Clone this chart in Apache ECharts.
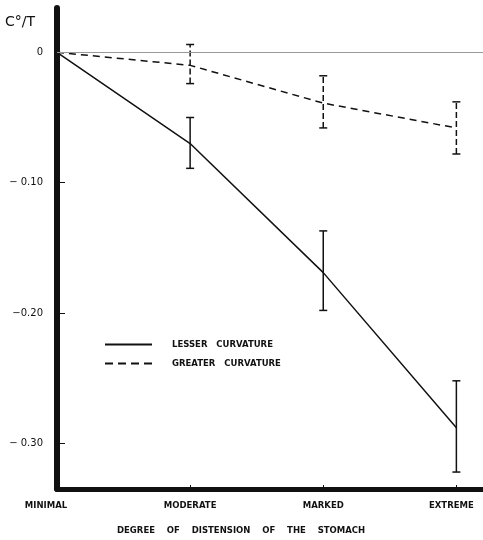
<!DOCTYPE html>
<html>
<head>
<meta charset="utf-8">
<script src="https://cdn.jsdelivr.net/npm/echarts@6/dist/echarts.min.js"></script>
<style>html,body{margin:0;padding:0;background:#fff}#c{width:483px;height:540px}</style>
</head>
<body>
<div id="c"></div>
<script>
const categories = ['MINIMAL', 'MODERATE', 'MARKED', 'EXTREME'];
const categoryX = [0, 1, 2, 3];
const lesserMean = [0, -0.070, -0.169, -0.288];
const lesserLow = [null, -0.089, -0.198, -0.322];
const lesserHigh = [null, -0.050, -0.137, -0.252];
const greaterMean = [0, -0.010, -0.039, -0.058];
const greaterLow = [null, -0.024, -0.058, -0.078];
const greaterHigh = [null, 0.006, -0.018, -0.038];
const yTicks = [0, -0.1, -0.2, -0.3];
const yTickLabels = ['0', '\u2212 0.10', '\u22120.20', '\u2212 0.30'];
const seriesNames = ['LESSER   CURVATURE', 'GREATER   CURVATURE'];

const FONT = 'DejaVu Sans';

function pairs(means) { return categoryX.map((x, i) => [x, means[i]]); }
function bars(lo, hi) {
  const out = [];
  categoryX.forEach((x, i) => { if (lo[i] !== null) out.push([x, lo[i], hi[i]]); });
  return out;
}
function errorRender(dashed) {
  return function (params, api) {
    const x = api.value(0);
    const a = api.coord([x, api.value(1)]);
    const b = api.coord([x, api.value(2)]);
    const w = 4;
    const st = { stroke: '#111', lineWidth: 1.5 };
    const vs = dashed ? Object.assign({ lineDash: [6, 3] }, st) : st;
    return {
      type: 'group',
      children: [
        { type: 'line', shape: { x1: a[0], y1: a[1], x2: b[0], y2: b[1] }, style: vs },
        { type: 'line', shape: { x1: a[0] - w, y1: a[1], x2: a[0] + w, y2: a[1] }, style: st },
        { type: 'line', shape: { x1: b[0] - w, y1: b[1], x2: b[0] + w, y2: b[1] }, style: st }
      ]
    };
  };
}

const chart = echarts.init(document.getElementById('c'), null, { renderer: 'canvas' });
chart.setOption({
  animation: false,
  backgroundColor: '#fff',
  textStyle: { fontFamily: FONT },
  title: [
    { text: 'C\u00B0/T', left: 5, top: 15, padding: 0,
      textStyle: { fontFamily: FONT, fontSize: 14, fontWeight: 'normal', color: '#111' } },
    { text: 'DEGREE    OF    DISTENSION    OF    THE    STOMACH', left: 117, top: 526, padding: 0,
      textStyle: { fontFamily: FONT, fontSize: 8.5, fontWeight: 'bold', color: '#111' } }
  ],
  legend: {
    orient: 'vertical', left: 100, top: 335, itemWidth: 47, itemHeight: 2, itemGap: 10,
    data: [
      { name: seriesNames[0], icon: 'path://M0,0H47V2H0Z' },
      { name: seriesNames[1], icon: 'path://M0,0H8V2H0ZM13,0H21V2H13ZM26,0H34V2H26ZM39,0H47V2H39Z' }
    ],
    itemStyle: { color: '#111', borderWidth: 0 },
    textStyle: { fontFamily: FONT, fontSize: 8.5, fontWeight: 'bold', color: '#111', padding: [0, 0, 0, 15] }
  },
  grid: { left: 57, right: 0, top: 8, bottom: 51, containLabel: false },
  xAxis: {
    type: 'value', min: 0, max: 3.2,
    axisLine: { onZero: false, lineStyle: { color: '#111', width: 5 } },
    axisTick: { inside: true, length: 4, customValues: categoryX, lineStyle: { color: '#111', width: 1 } },
    splitLine: { show: false },
    axisLabel: {
      customValues: categoryX, margin: 12, color: '#111', fontFamily: FONT, fontSize: 8.5, fontWeight: 'bold',
      formatter: function (v) {
        const i = Math.round(v);
        if (i === 0) return '{l|' + categories[0] + '}';
        if (i === 3) return '{r|' + categories[3] + '}';
        return categories[i] || '';
      },
      rich: {
        l: { padding: [0, 22, 0, 0], fontFamily: FONT, fontSize: 8.5, fontWeight: 'bold', color: '#111' },
        r: { padding: [0, 10, 0, 0], fontFamily: FONT, fontSize: 8.5, fontWeight: 'bold', color: '#111' }
      }
    }
  },
  yAxis: {
    type: 'value', min: -0.335, max: 0.034, offset: 3,
    axisLine: { lineStyle: { color: '#111', width: 6 } },
    axisTick: { inside: true, length: 8, customValues: yTicks, lineStyle: { color: '#111', width: 1 } },
    splitLine: { show: false },
    axisLabel: {
      customValues: yTicks, margin: 11, color: '#111', fontFamily: FONT, fontSize: 10,
      formatter: function (v) {
        const i = yTicks.findIndex(t => Math.abs(t - v) < 1e-6);
        return i >= 0 ? yTickLabels[i] : '';
      }
    }
  },
  series: [
    {
      name: seriesNames[0], type: 'line', data: pairs(lesserMean), symbol: 'none',
      lineStyle: { color: '#111', width: 1.5 }, itemStyle: { color: '#111' },
      markLine: {
        silent: true, symbol: 'none', label: { show: false },
        lineStyle: { color: '#999', width: 1, type: 'solid' },
        data: [{ yAxis: 0 }]
      }
    },
    {
      name: seriesNames[1], type: 'line', data: pairs(greaterMean), symbol: 'none',
      lineStyle: { color: '#111', width: 1.5, type: [7, 5] }, itemStyle: { color: '#111' }
    },
    { type: 'custom', name: 'lesserErr', data: bars(lesserLow, lesserHigh), renderItem: errorRender(false), clip: false, z: 3 },
    { type: 'custom', name: 'greaterErr', data: bars(greaterLow, greaterHigh), renderItem: errorRender(true), clip: false, z: 3 }
  ]
});
</script>
</body>
</html>
